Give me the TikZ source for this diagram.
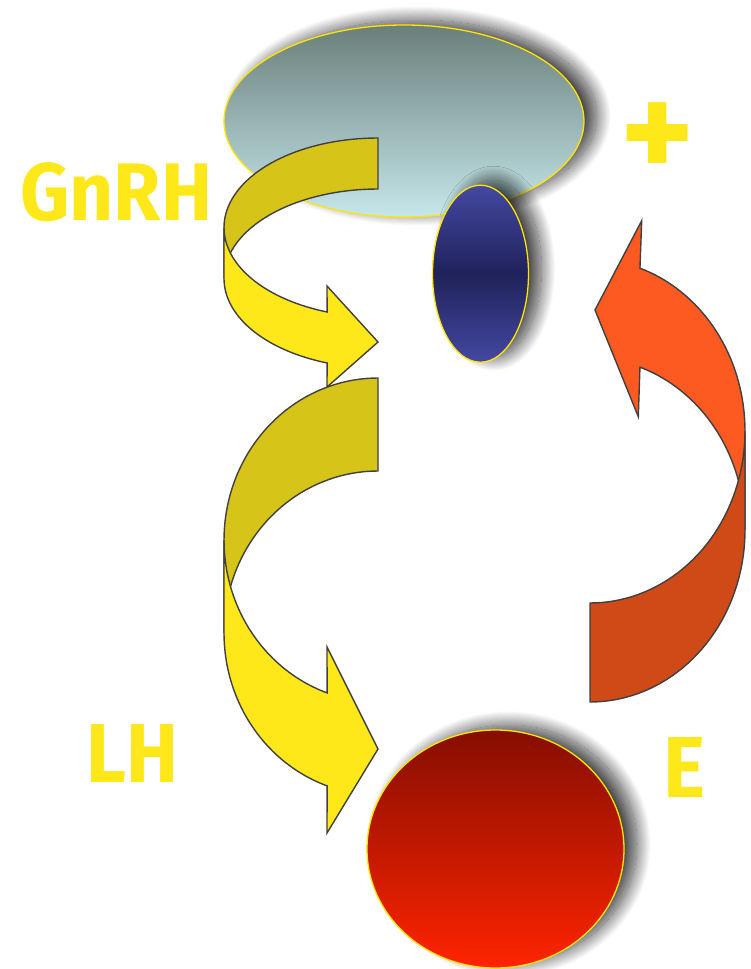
\documentclass[tikz,border=0pt]{standalone}
\usepackage{fontspec}
\setmainfont{Fira Sans}
\usetikzlibrary{shapes.geometric,shadows.blur}
\definecolor{ydark}{HTML}{D6C418}
\definecolor{ybright}{HTML}{FFE81A}
\definecolor{obright}{HTML}{FC5A21}
\definecolor{odark}{HTML}{D04A18}
\definecolor{outl}{HTML}{404040}
\definecolor{txty}{HTML}{FFE81A}
\definecolor{gtop}{HTML}{6A7F7B}
\definecolor{gbot}{HTML}{C6E7EA}
\definecolor{bedge}{HTML}{4448A2}
\definecolor{bmid}{HTML}{20225A}
\definecolor{rtop}{HTML}{850E00}
\definecolor{rbot}{HTML}{FF2400}
\definecolor{rim}{HTML}{FFE500}
\tikzset{
  band/.style={draw=outl, line width=1.4pt},
  organ/.style={ellipse, draw=rim, line width=1.3pt, inner sep=0pt,
    blur shadow={shadow xshift=13pt, shadow yshift=5pt, shadow blur radius=14pt,
      shadow blur steps=30, shadow opacity=75}},
  lbl/.style={text=txty, inner sep=0pt, font=\bfseries}
}
\begin{document}
\begin{tikzpicture}[x=1pt,y=-1pt]
\useasboundingbox (0,0) rectangle (750,969);
% hypothalamus
\node[organ, minimum width=360pt, minimum height=192pt, top color=gtop, bottom color=gbot] (hyp) at (404,121) {};
% GnRH arrow
\draw[band, fill=ydark] plot[domain=270:180, samples=40] ({378+154*cos(\x)},{227.5+89.5*sin(\x)})
  -- plot[domain=180:270, samples=40] ({378+154*cos(\x)},{278.5+89.5*sin(\x)}) -- cycle;
\draw[band, fill=ybright] plot[domain=180:109.3, samples=40] ({378+154*cos(\x)},{227.5+89.5*sin(\x)})
  -- (327,286) -- (378,342) -- (327,387)
  -- plot[domain=109.3:180, samples=40] ({378+154*cos(\x)},{278.5+89.5*sin(\x)}) -- cycle;
% pituitary
\node[organ, minimum width=96pt, minimum height=177pt, top color=bedge, bottom color=bedge, middle color=bmid] (pit) at (480.5,273.7) {};
% LH arrow
\draw[band, fill=ydark] plot[domain=270:180, samples=40] ({378+154*cos(\x)},{540+162*sin(\x)})
  -- plot[domain=180:270, samples=40] ({378+154*cos(\x)},{633+162*sin(\x)}) -- cycle;
\draw[band, fill=ybright] plot[domain=180:109.3, samples=40] ({378+154*cos(\x)},{540+162*sin(\x)})
  -- (327,647) -- (378,749) -- (327,833)
  -- plot[domain=109.3:180, samples=40] ({378+154*cos(\x)},{633+162*sin(\x)}) -- cycle;
% E arrow
\draw[band, fill=obright] plot[domain=0:-71.2, samples=40] ({590+155*cos(\x)},{431+172*sin(\x)})
  -- (641.7,220.7) -- (595,310) -- (638.3,416.7)
  -- plot[domain=-71.2:0, samples=40] ({590+155*cos(\x)},{530+172*sin(\x)}) -- cycle;
\draw[band, fill=odark] plot[domain=90:0, samples=40] ({590+155*cos(\x)},{530+172*sin(\x)})
  -- plot[domain=0:90, samples=40] ({590+155*cos(\x)},{431+172*sin(\x)}) -- cycle;
% ovary
\node[organ, minimum width=257pt, minimum height=238pt, top color=rtop, bottom color=rbot] (ova) at (495.5,849) {};
% labels
\node[lbl, anchor=base west] (gnrh) at (20,220) {\resizebox{192pt}{58pt}{GnRH}};
\node[lbl, anchor=base west] (lh) at (86,782) {\resizebox{92pt}{58pt}{LH}};
\node[lbl, anchor=base west] (e) at (663,797) {\resizebox{42pt}{60pt}{E}};
\node[lbl, font=\bfseries\fontsize{140}{140}\selectfont] (plus) at (658,141) {+};
\end{tikzpicture}
\end{document}
